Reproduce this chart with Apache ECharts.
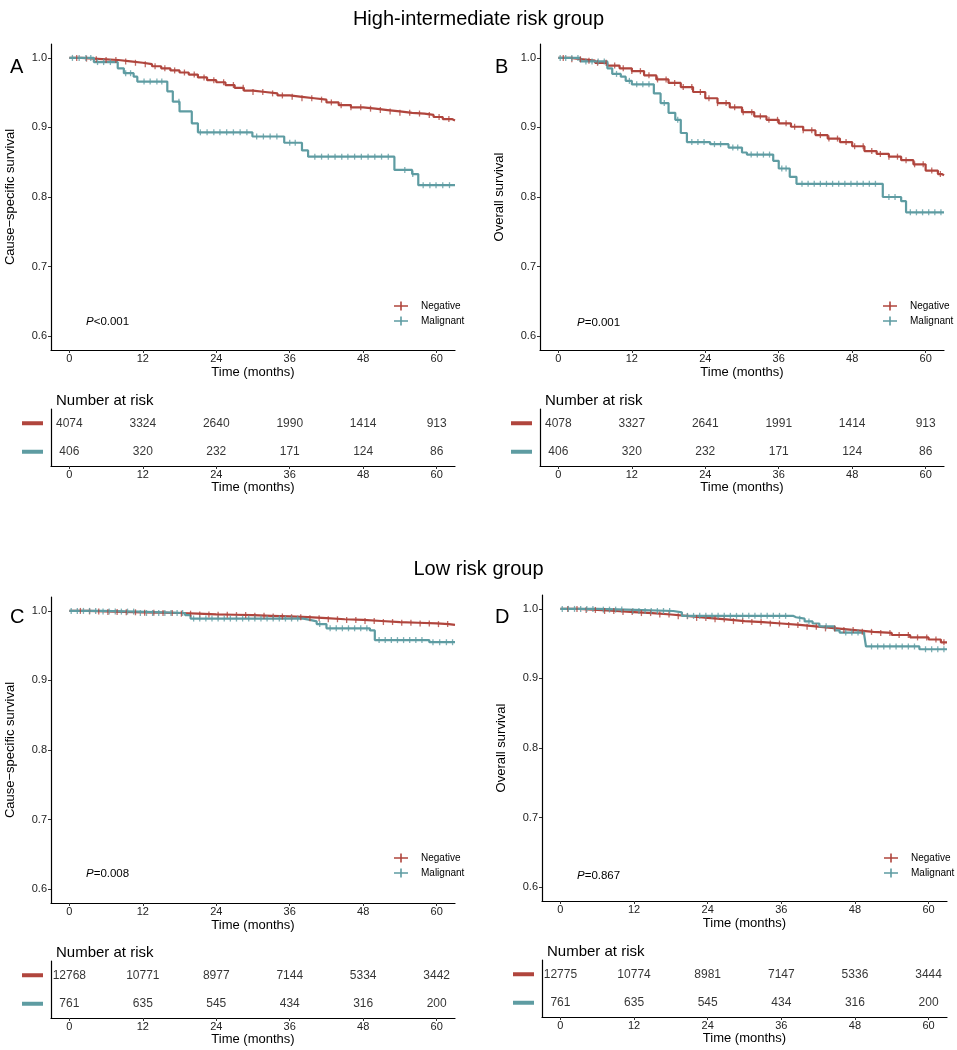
<!DOCTYPE html>
<html>
<head>
<meta charset="utf-8">
<script src="https://cdn.jsdelivr.net/npm/echarts@6/dist/echarts.min.js"></script>
<style>
html,body{margin:0;padding:0;background:#fff;}
#chart{width:957px;height:1050px;}
</style>
</head>
<body>
<div id="chart"></div>
<script>
// ---------------- DATA ----------------
const tickMonths = [0, 12, 24, 36, 48, 60];
const yTicks = [0.6, 0.7, 0.8, 0.9, 1.0];
const groups = ['Negative', 'Malignant'];

// Panel A: High-intermediate, cause-specific survival
const aNegT = [0,2,4,6,8,10,12,13.5,15,16.5,18,19.5,21,22.5,24,25.5,27,28.5,30,32,34,36,38,40,42,44,46,48,50,52,54,56,58,59.5,61,62.5,63];
const aNegS = [1.0,0.999,0.998,0.997,0.995,0.993,0.991,0.988,0.985,0.982,0.979,0.976,0.972,0.968,0.965,0.961,0.957,0.953,0.951,0.949,0.946,0.944,0.942,0.940,0.936,0.932,0.929,0.927,0.925,0.923,0.921,0.920,0.918,0.915,0.912,0.910,0.910];
const aMalT = [0,4,7.9,8.9,10.5,11.1,16,16.9,18,20,21,29.9,35.1,38,39,53.1,56,57,63];
const aMalS = [1.0,0.994,0.985,0.978,0.973,0.966,0.952,0.937,0.923,0.906,0.893,0.887,0.878,0.867,0.858,0.839,0.833,0.817,0.817];
const aNegCens = [1.2,2.8,4.4,6,7.6,9.2,10.8,12.4,14,15.6,17.2,18.8,20.4,22,23.6,25.2,26.8,28.4,30,31.6,33.2,34.8,36.4,38,39.6,41.2,42.8,44.4,46,47.6,49.2,50.8,52.4,54,55.6,57.2,58.8,60.4,62];
const aMalCens = [0.5,1.6,2.7,3.5,4.6,5.6,6.7,9.2,10,12.2,13.2,14.3,15.1,17.9,21.4,22.5,23.6,24.6,25.7,26.8,27.9,29,30.6,31.7,32.8,33.9,36,36.9,40.1,41.2,42.3,43.4,44.5,45.5,46.6,47.7,48.8,49.9,51,52.1,54.8,56.1,57.8,58.9,59.9,61,62.1];
const aRiskNeg = [4074, 3324, 2640, 1990, 1414, 913];
const aRiskMal = [406, 320, 232, 171, 124, 86];

// Panel B: High-intermediate, overall survival
const bNegT = [0,2,4,6,8,10,12,14,16,18,20,22,24,26,28,30,32,34,36,38,40,42,44,46,48,50,52,54,56,58,60,62,62.7,63];
const bNegS = [1.0,0.998,0.996,0.993,0.989,0.985,0.981,0.975,0.969,0.964,0.958,0.951,0.942,0.935,0.929,0.922,0.916,0.911,0.906,0.901,0.896,0.889,0.884,0.879,0.873,0.866,0.862,0.858,0.853,0.847,0.838,0.833,0.831,0.831];
const bMalT = [0,3.6,8,8.8,10.2,11,12,15.6,16.7,18,19.1,20,21,24.8,27.8,30,30.8,35.1,36,37.8,38.9,53,56,56.8,63];
const bMalS = [1.0,0.995,0.985,0.977,0.973,0.967,0.962,0.949,0.935,0.921,0.911,0.892,0.879,0.876,0.871,0.864,0.861,0.852,0.841,0.829,0.819,0.800,0.794,0.778,0.778];
const bNegCens = [0.8,2.2,3.6,5,6.4,7.8,9.2,10.6,12,13.4,14.8,16.2,17.6,19,20.4,21.8,23.2,24.6,26,27.4,28.8,30.2,31.6,33,34.4,35.8,37.2,38.6,40,41.4,42.8,44.2,45.6,47,48.4,49.8,51.2,52.6,54,55.4,56.8,58.2,59.6,61,62.4];
const bMalCens = [0.3,1.2,2.2,3.2,4.5,5.5,6.5,7.5,9.5,11.6,12.8,13.8,14.8,17.3,19.5,21.8,22.8,23.8,25.5,26.5,28.5,29.3,31.5,32.5,33.5,34.5,36.5,37.2,39.8,40.8,41.8,42.8,43.8,44.8,45.8,46.8,47.8,48.8,49.8,50.8,51.8,54,55,57.5,58.5,59.5,60.5,61.5,62.5];
const bRiskNeg = [4078, 3327, 2641, 1991, 1414, 913];
const bRiskMal = [406, 320, 232, 171, 124, 86];

// Panel C: Low risk, cause-specific survival
const cNegT = [0,3,6,9,12,15,18,21,24,27,30,33,36,39,42,45,48,51,54,57,60,62,63];
const cNegS = [1.0,0.9993,0.9986,0.998,0.9975,0.997,0.996,0.995,0.9945,0.994,0.993,0.992,0.991,0.9895,0.988,0.987,0.9855,0.984,0.983,0.982,0.981,0.980,0.980];
const cMalT = [0,5.1,11.1,18.9,19.8,38.2,39.3,40.4,42,49.1,49.9,58.8,63];
const cMalS = [1.0,0.999,0.997,0.994,0.989,0.987,0.985,0.981,0.975,0.972,0.958,0.955,0.955];
const cNegCens = [1.8,3.3,4.8,6.3,7.8,9.3,10.8,12.3,13.8,15.3,16.8,18.3,19.8,21.3,22.8,24.3,25.8,27.3,28.8,30.3,31.8,33.3,34.8,36.3,37.8,39.3,40.8,42.3,43.8,45.3,46.8,48.3,49.8,51.3,52.8,54.3,55.8,57.3,58.8,60.3,61.8];
const cMalCens = [0.3,1.3,2.3,3.3,4.3,5.5,6.5,7.5,8.5,9.5,10.5,11.6,12.6,13.6,14.6,15.6,16.6,17.6,18.5,20.3,21.3,22.3,23.3,24.3,25.3,26.3,27.3,28.3,29.3,30.3,31.3,32.3,33.3,34.3,35.3,36.3,37.3,40.9,42.6,43.6,44.6,45.6,46.6,47.6,48.6,50.6,51.6,52.6,53.6,54.6,55.6,56.6,57.6,59.4,60.5,61.6,62.6];
const cRiskNeg = [12768, 10771, 8977, 7144, 5334, 3442];
const cRiskMal = [761, 635, 545, 434, 316, 200];

// Panel D: Low risk, overall survival
const dNegT = [0,3,6,9,12,15,18,21,24,27,30,33,36,39,42,45,48,51,54,57,60,62,63];
const dNegS = [1.0,0.9985,0.997,0.9955,0.994,0.992,0.9895,0.987,0.985,0.9825,0.981,0.979,0.977,0.9745,0.972,0.9695,0.967,0.9655,0.9625,0.959,0.956,0.952,0.951];
const dMalT = [0,6,10.8,18.4,19.8,37.9,38.4,39.8,41.1,42.2,44.7,45.5,49.5,49.8,58.5,63];
const dMalS = [1.0,0.999,0.997,0.995,0.990,0.988,0.986,0.982,0.979,0.975,0.969,0.966,0.963,0.946,0.942,0.942];
const dNegCens = [1.2,2.7,4.2,5.7,7.2,8.7,10.2,11.7,13.2,14.7,16.2,17.7,19.2,20.7,22.2,23.7,25.2,26.7,28.2,29.7,31.2,32.7,34.2,35.7,37.2,38.7,40.2,41.7,43.2,44.7,46.2,47.7,49.2,50.7,52.2,53.7,55.2,56.7,58.2,59.7,61.2,62.5];
const dMalCens = [0.3,1.3,2.3,3.3,4.3,5.3,7,8,9,10,11.8,12.8,13.8,14.8,15.8,16.8,17.8,20.7,21.7,22.7,23.7,24.7,25.7,26.7,27.7,28.7,29.7,30.7,31.7,32.7,33.7,34.7,35.7,36.7,39,40.5,43.3,46.5,47.5,48.5,50.7,51.7,52.7,53.7,54.7,55.7,56.7,57.7,59.5,60.5,61.5,62.5];
const dRiskNeg = [12775, 10774, 8981, 7147, 5336, 3444];
const dRiskMal = [761, 635, 545, 434, 316, 200];

// ---------------- STYLE / LAYOUT ----------------
const RED = '#B0453D', TEAL = '#5E9CA2';
const FONT = 'Liberation Sans, Arial, sans-serif';

const panels = [
  {letter:'A', yName:'Cause\u2212specific survival', p:'<0.001',
   negT:aNegT, negS:aNegS, malT:aMalT, malS:aMalS, negC:aNegCens, malC:aMalCens, rNeg:aRiskNeg, rMal:aRiskMal,
   main:{left:51, top:44, width:404, height:306}, risk:{left:51, top:409, width:404, height:57},
   letterPos:{left:5, top:52}, pPos:{left:81, top:311}, legPos:{left:389, top:296}, nrPos:{left:51, top:388}},
  {letter:'B', yName:'Overall survival', p:'=0.001',
   negT:bNegT, negS:bNegS, malT:bMalT, malS:bMalS, negC:bNegCens, malC:bMalCens, rNeg:bRiskNeg, rMal:bRiskMal,
   main:{left:540, top:44, width:404, height:306}, risk:{left:540, top:409, width:404, height:57},
   letterPos:{left:490, top:52}, pPos:{left:572, top:312}, legPos:{left:878, top:296}, nrPos:{left:540, top:388}},
  {letter:'C', yName:'Cause\u2212specific survival', p:'=0.008',
   negT:cNegT, negS:cNegS, malT:cMalT, malS:cMalS, negC:cNegCens, malC:cMalCens, rNeg:cRiskNeg, rMal:cRiskMal,
   main:{left:51, top:597, width:404, height:306}, risk:{left:51, top:961, width:404, height:57},
   letterPos:{left:5, top:602}, pPos:{left:81, top:863}, legPos:{left:389, top:848}, nrPos:{left:51, top:940}},
  {letter:'D', yName:'Overall survival', p:'=0.867',
   negT:dNegT, negS:dNegS, malT:dMalT, malS:dMalS, negC:dNegCens, malC:dMalCens, rNeg:dRiskNeg, rMal:dRiskMal,
   main:{left:542, top:595, width:405, height:306}, risk:{left:542, top:960, width:405, height:57},
   letterPos:{left:490, top:602}, pPos:{left:572, top:865}, legPos:{left:879, top:848}, nrPos:{left:542, top:939}}
];

function survAt(T, S, t) {
  let v = S[0];
  for (let i = 0; i < T.length; i++) { if (T[i] <= t) v = S[i]; }
  return v;
}
function pairs(T, S) { return T.map((t, i) => [t, S[i]]); }

const legendIcon = 'path://M0,3.6H6.2V0H7.8V3.6H14V5.2H7.8V8.8H6.2V5.2H0Z';

const axisLineStyle = {color:'#000', width:1.2};
const grid = [], xAxis = [], yAxis = [], series = [], titles = [], legends = [];

titles.push({text:'High-intermediate risk group', left:'center', top:4,
  textStyle:{fontFamily:FONT, fontSize:20, fontWeight:'normal', color:'#000'}});
titles.push({text:'Low risk group', left:'center', top:554,
  textStyle:{fontFamily:FONT, fontSize:20, fontWeight:'normal', color:'#000'}});

panels.forEach((P, k) => {
  const gMain = grid.length;
  grid.push(Object.assign({containLabel:false}, P.main));
  const gRisk = grid.length;
  grid.push(Object.assign({containLabel:false}, P.risk));

  // main axes
  xAxis.push({gridIndex:gMain, type:'value', min:-3, max:63,
    name:'Time (months)', nameLocation:'middle', nameGap:16,
    nameTextStyle:{fontFamily:FONT, fontSize:13, color:'#000'},
    axisLine:{show:true, onZero:false, lineStyle:axisLineStyle},
    axisTick:{show:true, length:3, lineStyle:{color:'#333'}, customValues:tickMonths},
    axisLabel:{fontFamily:FONT, fontSize:11, color:'#222', margin:3, customValues:tickMonths},
    splitLine:{show:false}});
  yAxis.push({gridIndex:gMain, type:'value', min:0.58, max:1.02,
    name:P.yName, nameLocation:'middle', nameGap:34, nameRotate:90,
    nameTextStyle:{fontFamily:FONT, fontSize:13, color:'#000'},
    axisLine:{show:true, onZero:false, lineStyle:axisLineStyle},
    axisTick:{show:true, length:3, lineStyle:{color:'#333'}, customValues:yTicks},
    axisLabel:{fontFamily:FONT, fontSize:11, color:'#222', margin:4, customValues:yTicks,
      formatter:v => Number(v).toFixed(1)},
    splitLine:{show:false}});

  // risk axes
  xAxis.push({gridIndex:gRisk, type:'value', min:-3, max:63,
    name:'Time (months)', nameLocation:'middle', nameGap:15,
    nameTextStyle:{fontFamily:FONT, fontSize:13, color:'#000'},
    axisLine:{show:true, onZero:false, lineStyle:axisLineStyle},
    axisTick:{show:true, length:3, lineStyle:{color:'#333'}, customValues:tickMonths},
    axisLabel:{fontFamily:FONT, fontSize:11, color:'#222', margin:3, customValues:tickMonths},
    splitLine:{show:false}});
  yAxis.push({gridIndex:gRisk, type:'category', data:groups, inverse:true,
    axisLine:{show:true, onZero:false, lineStyle:axisLineStyle},
    axisTick:{show:false},
    axisLabel:{margin:8, formatter:v => v === 'Negative' ? '{n| }' : '{m| }',
      rich:{n:{width:21, height:4, lineHeight:4, backgroundColor:RED},
            m:{width:21, height:4, lineHeight:4, backgroundColor:TEAL}}},
    splitLine:{show:false}});

  const base = {xAxisIndex:gMain, yAxisIndex:gMain, animation:false, silent:true};
  series.push(Object.assign({}, base, {type:'line', name:'Negative', step:'end', showSymbol:false,
    data:pairs(P.negT, P.negS), itemStyle:{color:RED}, lineStyle:{color:RED, width:2.2}, z:2}));
  series.push(Object.assign({}, base, {type:'line', name:'Malignant', step:'end', showSymbol:false,
    data:pairs(P.malT, P.malS), itemStyle:{color:TEAL}, lineStyle:{color:TEAL, width:2.2}, z:3}));
  series.push(Object.assign({}, base, {type:'scatter', name:'Negative censored', symbol:'rect', symbolSize:[1.3, 6],
    data:P.negC.map(t => [t, survAt(P.negT, P.negS, t)]), itemStyle:{color:RED}, z:4}));
  series.push(Object.assign({}, base, {type:'scatter', name:'Malignant censored', symbol:'rect', symbolSize:[1.3, 6],
    data:P.malC.map(t => [t, survAt(P.malT, P.malS, t)]), itemStyle:{color:TEAL}, z:5}));

  // risk table text
  const riskData = [];
  tickMonths.forEach((t, i) => {
    riskData.push([t, 'Negative', P.rNeg[i]]);
    riskData.push([t, 'Malignant', P.rMal[i]]);
  });
  series.push({type:'scatter', name:'risk' + k, xAxisIndex:gRisk, yAxisIndex:gRisk, silent:true, animation:false,
    symbolSize:1, itemStyle:{color:'rgba(0,0,0,0)'}, data:riskData,
    label:{show:true, position:'inside', formatter:p => String(p.value[2]),
      fontFamily:FONT, fontSize:12, color:'#000'}});

  // text
  titles.push({text:P.letter, left:P.letterPos.left, top:P.letterPos.top,
    textStyle:{fontFamily:FONT, fontSize:20, fontWeight:'normal', color:'#000'}});
  titles.push({text:'Number at risk', left:P.nrPos.left, top:P.nrPos.top,
    textStyle:{fontFamily:FONT, fontSize:15, fontWeight:'normal', color:'#000'}});
  titles.push({text:'{i|P}{n|' + P.p + '}', left:P.pPos.left, top:P.pPos.top,
    textStyle:{fontWeight:'normal', rich:{
      i:{fontFamily:FONT, fontSize:11.5, fontStyle:'italic', fontWeight:'normal', color:'#000'},
      n:{fontFamily:FONT, fontSize:11.5, fontWeight:'normal', color:'#000'}}}});

  legends.push({data:groups, orient:'vertical', left:P.legPos.left, top:P.legPos.top,
    itemWidth:14, itemHeight:9, itemGap:5, icon:legendIcon, selectedMode:false,
    textStyle:{fontFamily:FONT, fontSize:10, color:'#000', padding:[0,0,0,8]}});
});

const chart = echarts.init(document.getElementById('chart'), null, {renderer:'canvas'});
chart.setOption({
  backgroundColor:'#fff',
  animation:false,
  title:titles,
  legend:legends,
  grid:grid,
  xAxis:xAxis,
  yAxis:yAxis,
  series:series
});
</script>
</body>
</html>
